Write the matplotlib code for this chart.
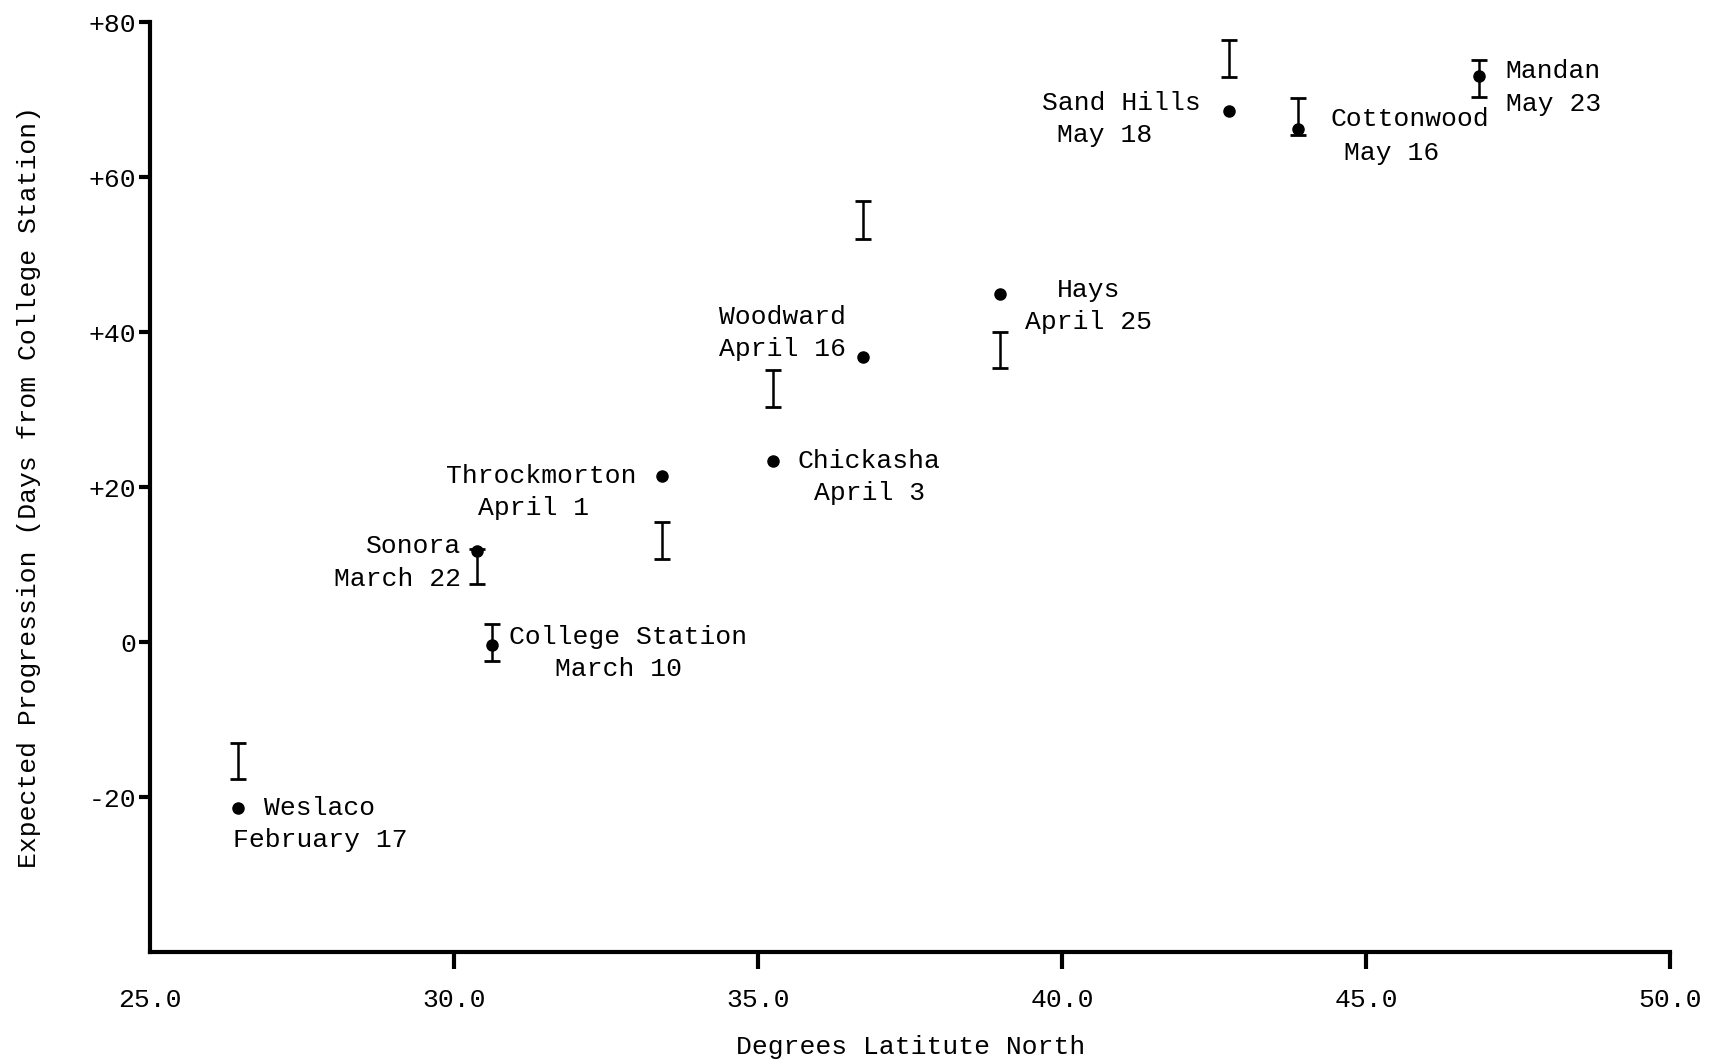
import matplotlib
matplotlib.use("Agg")
import matplotlib.pyplot as plt

plt.rcParams['font.family'] = ['Liberation Mono', 'DejaVu Sans Mono']

# estaciones y datos
stations = ["Weslaco", "College Station", "Sonora", "Throckmorton", "Chickasha",
            "Woodward", "Hays", "Sand Hills", "Cottonwood", "Mandan"]
dates = ["February 17", "March 10", "March 22", "April 1", "April 3",
         "April 16", "April 25", "May 18", "May 16", "May 23"]
latitude = [26.44, 30.63, 30.38, 33.41, 35.25, 36.72, 38.97, 42.74, 43.87, 46.86]
progression = [-21.4, -0.3, 11.8, 21.4, 23.4, 36.8, 44.9, 68.6, 66.3, 73.1]
# rango esperado (barras I)
bar_low = [-17.7, -2.4, 7.5, 10.7, 30.4, 52.1, 35.4, 73.0, 65.5, 70.4]
bar_high = [-13.0, 2.3, 12.0, 15.5, 35.2, 56.9, 40.1, 77.7, 70.3, 75.2]

xticks = [25.0, 30.0, 35.0, 40.0, 45.0, 50.0]
yticks = [-20, 0, 20, 40, 60, 80]
ytick_labels = ["-20", "0", "+20", "+40", "+60", "+80"]

# posicion de las etiquetas (nombre, fecha): x, y, alineacion
name_pos = [(26.87, -21.4, 'left'), (30.90, 0.7, 'left'), (30.11, 12.4, 'right'),
            (31.44, 21.5, 'center'), (35.64, 23.4, 'left'), (34.35, 42.0, 'left'),
            (40.44, 45.4, 'center'), (42.27, 69.6, 'right'), (44.41, 67.5, 'left'),
            (47.29, 73.7, 'left')]
date_pos = [(26.37, -25.5, 'left'), (32.71, -3.5, 'center'), (30.11, 8.2, 'right'),
            (31.31, 17.3, 'center'), (36.83, 19.3, 'center'), (34.35, 37.9, 'left'),
            (39.38, 41.3, 'left'), (39.92, 65.4, 'left'), (44.63, 63.2, 'left'),
            (47.29, 69.4, 'left')]

fig = plt.figure(figsize=(17.15, 10.64), dpi=100)
ax = fig.add_axes([0.0875, 0.105, 0.8865, 0.874])

ax.plot(latitude, progression, 'o', color='black', markersize=8, zorder=3)

mid = [(lo + hi) / 2 for lo, hi in zip(bar_low, bar_high)]
half = [(hi - lo) / 2 for lo, hi in zip(bar_low, bar_high)]
ax.errorbar(latitude, mid, yerr=half, fmt='none', ecolor='black',
            elinewidth=1.8, capsize=6, capthick=2)

fs = 19
for i in range(len(stations)):
    x, y, ha = name_pos[i]
    ax.text(x, y, stations[i], ha=ha, va='center', fontsize=fs)
    x, y, ha = date_pos[i]
    ax.text(x, y, dates[i], ha=ha, va='center', fontsize=fs)

ax.set_xlim(25, 50)
ax.set_ylim(-40, 80)
ax.set_xticks(xticks)
ax.set_xticklabels(["%.1f" % v for v in xticks], fontsize=19)
ax.set_yticks(yticks)
ax.set_yticklabels(ytick_labels, fontsize=19)
ax.xaxis.get_major_ticks()[0].tick1line.set_visible(False)

for s in ['top', 'right']:
    ax.spines[s].set_visible(False)
for s in ['left', 'bottom']:
    ax.spines[s].set_linewidth(3)
ax.tick_params(axis='x', direction='out', length=12, width=3, pad=14)
ax.tick_params(axis='y', direction='out', length=8, width=3, pad=2)

ax.set_xlabel("Degrees Latitute North", fontsize=19, labelpad=16)
ax.set_ylabel("Expected Progression (Days from College Station)", fontsize=19, labelpad=34)

fig.savefig("out.png", dpi=100)
